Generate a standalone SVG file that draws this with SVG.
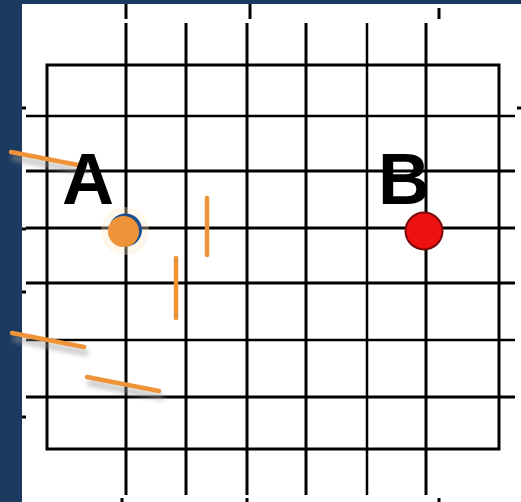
<svg xmlns="http://www.w3.org/2000/svg" width="521" height="502" viewBox="0 0 521 502">
  <defs>
    <style>
      .g { stroke: #000; stroke-width: 3; fill: none; }
      .g2 { stroke: #000; stroke-width: 2.5; fill: none; }
      .tick { stroke: #000; stroke-width: 3; }
      .pen { stroke: #ef9338; stroke-width: 4.5; stroke-linecap: round; fill: none; }
      .shadow { stroke: #9a9a9a; stroke-width: 6; stroke-linecap: round; fill: none; opacity: 0.55; filter: url(#blur); }
      .lbl { font-family: "Liberation Sans", Arial, sans-serif; font-weight: bold; font-size: 72px; fill: #000; text-anchor: middle; }
    </style>
    <filter id="blur" x="-50%" y="-50%" width="200%" height="200%">
      <feGaussianBlur stdDeviation="2.5"/>
    </filter>
  </defs>

  <!-- background -->
  <rect x="0" y="0" width="521" height="502" fill="#1b3a5f"/>
  <rect x="22" y="4" width="499" height="498" fill="#ffffff"/>

  <!-- grid -->
  <g id="grid">
    <rect class="g" x="47" y="65" width="452" height="384"/>
    <line class="g2" x1="26" y1="116" x2="515" y2="116"/>
    <line class="g" x1="26" y1="171" x2="515" y2="171"/>
    <line class="g" x1="26" y1="228" x2="515" y2="228"/>
    <line class="g" x1="26" y1="283" x2="515" y2="283"/>
    <line class="g2" x1="26" y1="340" x2="515" y2="340"/>
    <line class="g" x1="26" y1="397" x2="515" y2="397"/>
    <line class="g" x1="126" y1="23" x2="126" y2="495"/>
    <line class="g" x1="186" y1="23" x2="186" y2="495"/>
    <line class="g" x1="247" y1="23" x2="247" y2="495"/>
    <line class="g" x1="306" y1="23" x2="306" y2="495"/>
    <line class="g2" x1="367" y1="23" x2="367" y2="495"/>
    <line class="g" x1="426" y1="23" x2="426" y2="495"/>
    <!-- edge ticks -->
    <line class="tick" x1="126" y1="4" x2="126" y2="19"/>
    <line class="tick" x1="250" y1="4" x2="250" y2="19"/>
    <line class="tick" x1="439" y1="8" x2="439" y2="19"/>
    <line class="tick" x1="122" y1="498" x2="122" y2="502"/>
    <line class="tick" x1="247" y1="498" x2="247" y2="502"/>
    <line class="tick" x1="439" y1="498" x2="439" y2="502"/>
    <line class="tick" x1="22" y1="108" x2="26" y2="108"/>
    <line class="tick" x1="22" y1="229" x2="26" y2="229"/>
    <line class="tick" x1="22" y1="292" x2="26" y2="292"/>
    <line class="tick" x1="22" y1="417" x2="26" y2="417"/>
    <line class="tick" x1="517" y1="108" x2="521" y2="108"/>
  </g>

  <!-- pen marks -->
  <g id="connectors">
    <line class="shadow" x1="14" y1="158" x2="84" y2="172"/>
    <line class="pen" x1="11" y1="152" x2="83" y2="166"/>
    <line class="shadow" x1="209" y1="202" x2="209" y2="258"/>
    <line class="pen" x1="207" y1="198" x2="207" y2="255"/>
    <line class="shadow" x1="178" y1="262" x2="178" y2="321"/>
    <line class="pen" x1="176" y1="258" x2="176" y2="318"/>
    <line class="shadow" x1="15" y1="339" x2="86" y2="353"/>
    <line class="pen" x1="12" y1="333" x2="84" y2="347"/>
    <line class="shadow" x1="90" y1="383" x2="161" y2="397"/>
    <line class="pen" x1="87" y1="377" x2="159" y2="391"/>
  </g>

  <!-- node A -->
  <g id="A">
    <circle cx="125" cy="231" r="24" fill="#fde9c8" opacity="0.35"/>
    <circle cx="125.5" cy="230" r="16.5" fill="#1b4f8f"/>
    <circle cx="123.5" cy="231.5" r="15.5" fill="#ef9338"/>
    <text class="lbl" x="88" y="204">A</text>
  </g>

  <!-- node B -->
  <g id="B">
    <circle cx="424" cy="231" r="18.5" fill="#ee1111" stroke="#7a0a0a" stroke-width="2"/>
    <text class="lbl" x="404" y="204">B</text>
  </g>
</svg>
